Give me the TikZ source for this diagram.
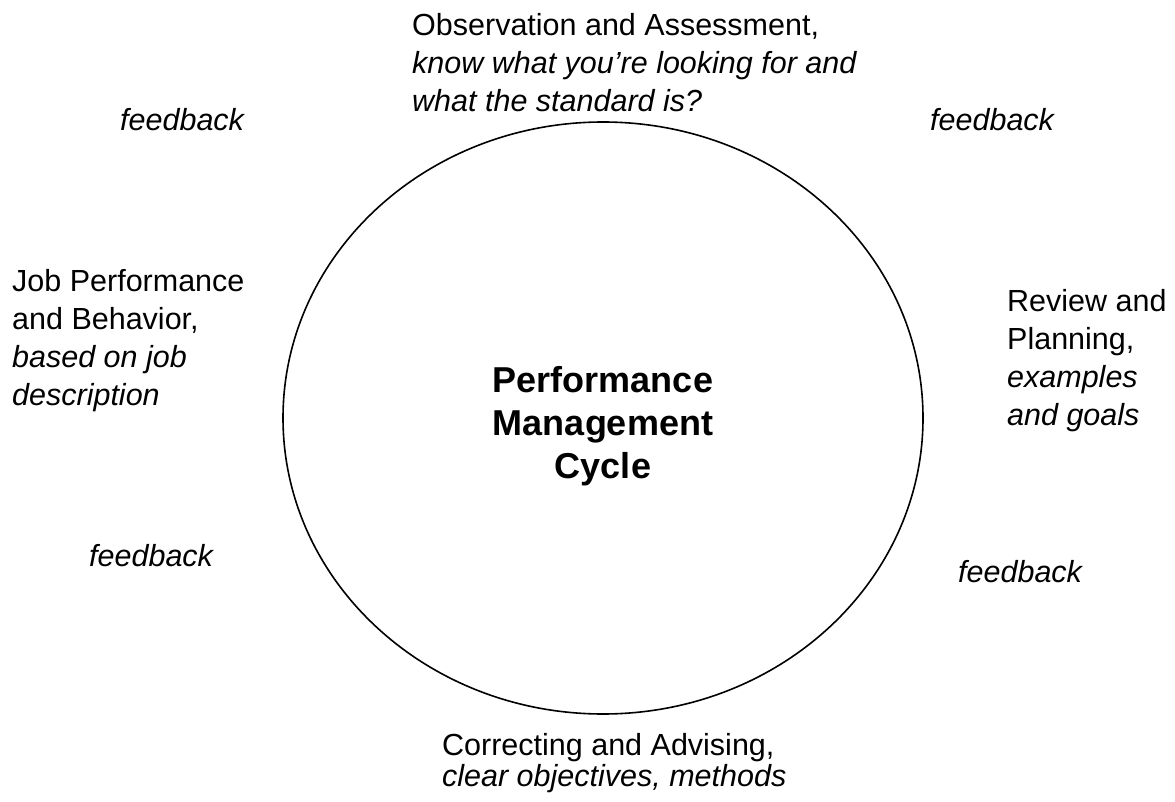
\documentclass[tikz,border=0pt]{standalone}
\usepackage{fontspec}
\setmainfont{Liberation Sans}
\usetikzlibrary{shapes.geometric}
\begin{document}
\begin{tikzpicture}[x=1pt,y=-1pt,
  lbl/.style={inner sep=0pt, anchor=base west, font=\fontsize{30.5}{38}\selectfont},
  fb/.style={inner sep=0pt, anchor=base west, font=\fontsize{30.5}{38}\selectfont\itshape},
  ctr/.style={inner sep=0pt, anchor=base, font=\fontsize{36}{43}\selectfont\bfseries},
  ring/.style={draw=black, line width=1.6pt, ellipse, inner sep=0pt}]
\fill[white] (0,0) rectangle (1175,802);
\useasboundingbox (0,0) rectangle (1175,802);

\node[ring, minimum width=640pt, minimum height=592pt] (cycle) at (603,418) {};

\node[ctr] (title) at (603,392) {\begin{tabular}[t]{@{}c@{}}Performance\\ Management\\ Cycle\end{tabular}};

\node[lbl] (obs) at (412,36) {\begin{tabular}[t]{@{}l@{}}Observation and Assessment,\\ \textit{know what you’re looking for and}\\ \textit{what the standard is?}\end{tabular}};

\node[lbl] (job) at (12,292) {\begin{tabular}[t]{@{}l@{}}Job Performance\\ and Behavior,\\ \textit{based on job}\\ \textit{description}\end{tabular}};

\node[lbl] (rev) at (1007,312) {\begin{tabular}[t]{@{}l@{}}Review and\\ Planning,\\ \textit{examples}\\ \textit{and goals}\end{tabular}};

\node[lbl, font=\fontsize{30.5}{30}\selectfont] (cor) at (442,755) {\begin{tabular}[t]{@{}l@{}}Correcting and Advising,\\ \textit{clear objectives, methods}\end{tabular}};

\node[fb] (fbtl) at (120,131) {feedback};
\node[fb] (fbtr) at (930,131) {feedback};
\node[fb] (fbbl) at (89,566) {feedback};
\node[fb] (fbbr) at (958,582) {feedback};
\end{tikzpicture}
\end{document}
